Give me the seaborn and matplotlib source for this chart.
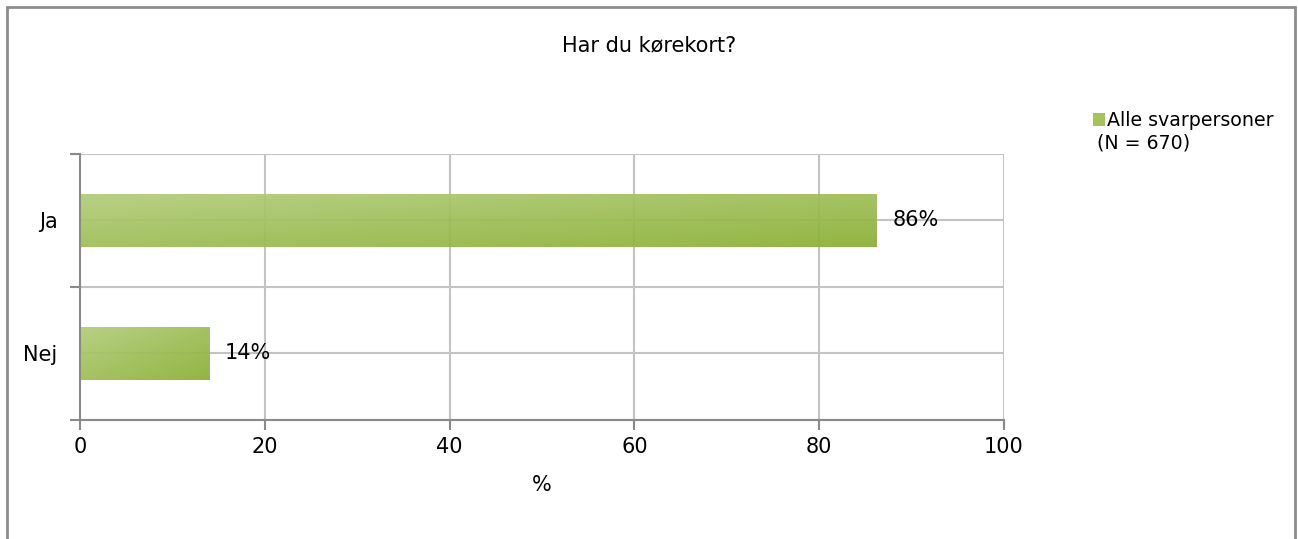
import numpy as np
import pandas as pd
import matplotlib
matplotlib.use('Agg')
from matplotlib import pyplot as plt
from matplotlib.colors import LinearSegmentedColormap
from matplotlib.lines import Line2D
from matplotlib.patches import Patch
import seaborn as sns

categories = ['Ja', 'Nej']
percent = [86.2, 14.0]
bar_labels = ['86%', '14%']
series_name = 'Alle svarpersoner'
series_note = '(N = 670)'
title = 'Har du kørekort?'
x_ticks = [0, 20, 40, 60, 80, 100]

sns.set_theme(style='white')
plt.rcParams['font.family'] = ['DejaVu Sans']
plt.rcParams['text.color'] = 'black'
FS = 15
LEG_FS = 13.7
GRID = '#c3c3c3'
AXIS = '#8a8a8a'

fig = plt.figure(figsize=(12.98, 5.39), dpi=100)
ax = fig.add_axes([0.0616, 0.2208, 0.7119, 0.4935])

df = pd.DataFrame({'category': categories, 'percent': percent})
sns.barplot(data=df, x='percent', y='category', orient='h', width=0.4,
            color='#a5c25c', ax=ax, zorder=2)

# diagonal gradient fill like the Excel bars
cmap = LinearSegmentedColormap.from_list('grn', ['#b3cd7c', '#8bb034'])
u, v = np.meshgrid(np.linspace(0, 1, 200), np.linspace(0, 1, 50))
grad = (u + v) / 2
for p in ax.patches:
    x0, y0 = p.get_x(), p.get_y()
    w, h = p.get_width(), p.get_height()
    p.set_facecolor('none')
    p.set_edgecolor('none')
    im = ax.imshow(grad, cmap=cmap, extent=[x0, x0 + w, y0 + h, y0],
                   aspect='auto', origin='upper', alpha=0.93, zorder=2)
    im.set_clip_path(p)

ax.set_xlim(0, 100)
ax.set_ylim(1.5, -0.5)
ax.set_xticks(x_ticks)
ax.set_yticks([0, 1])
ax.set_yticklabels(categories)
ax.set_yticks([-0.5, 0.5, 1.5], minor=True)
ax.set_xlabel('%', fontsize=FS, labelpad=13, color='black')
ax.set_ylabel('')

ax.set_axisbelow(True)
ax.grid(True, axis='x', which='major', color=GRID, lw=1.5)
ax.grid(True, axis='y', which='both', color=GRID, lw=1.5)
ax.tick_params(axis='y', which='major', length=0, pad=16, labelsize=FS, labelcolor='black')
ax.tick_params(axis='y', which='minor', length=7, width=1.5, color=AXIS, left=True)
ax.tick_params(axis='x', which='major', length=7, width=1.5, color=AXIS, bottom=True,
               pad=5, labelsize=FS, labelcolor='black')

for side in ['top', 'right']:
    ax.spines[side].set_visible(False)
for side in ['left', 'bottom']:
    ax.spines[side].set_color(AXIS)
    ax.spines[side].set_linewidth(1.5)

for i, (val, lab) in enumerate(zip(percent, bar_labels)):
    ax.text(val + 1.7, i, lab, va='center', ha='left', fontsize=FS, color='black')

fig.text(0.5, 1 - 45 / 539, title, ha='center', va='center', fontsize=FS, color='black')

fig.legend(handles=[Patch(facecolor='#a5c25c', edgecolor='none')], labels=[series_name],
           loc='upper left', bbox_to_anchor=(1093 / 1298, 1 - 111 / 539), frameon=False,
           handlelength=0.65, handleheight=0.65, handletextpad=0.1, fontsize=LEG_FS,
           borderpad=0, borderaxespad=0, labelcolor='black')
fig.text(1097 / 1298, 1 - 143 / 539, series_note, ha='left', va='center', fontsize=LEG_FS,
         color='black')

# outer chart border
bc = '#8c8c8c'
fig.add_artist(Line2D([7 / 1298, 7 / 1298], [0, 1 - 7 / 539], color=bc, lw=2))
fig.add_artist(Line2D([7 / 1298, 1295 / 1298], [1 - 7 / 539, 1 - 7 / 539], color=bc, lw=2))
fig.add_artist(Line2D([1295 / 1298, 1295 / 1298], [0, 1 - 7 / 539], color=bc, lw=2))

fig.savefig('out.png', dpi=100, facecolor='white')
